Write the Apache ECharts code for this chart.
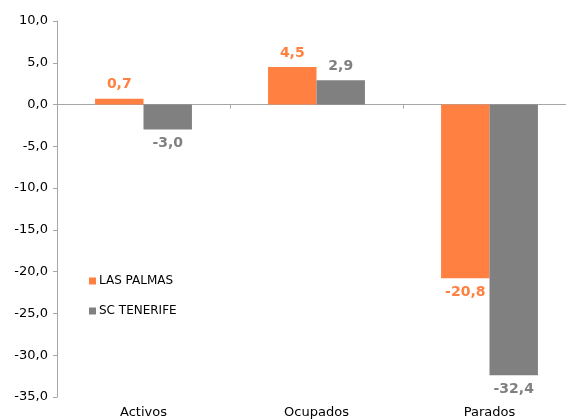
<!DOCTYPE html>
<html>
<head>
<meta charset="utf-8">
<script src="https://cdn.jsdelivr.net/npm/echarts@6/dist/echarts.min.js"></script>
<style>
  html, body { margin: 0; padding: 0; background: #fff; }
  #chart { width: 566px; height: 419px; }
</style>
</head>
<body>
<div id="chart"></div>
<script>
var categories = ["Activos", "Ocupados", "Parados"];
var lasPalmas = [0.7, 4.5, -20.8];
var scTenerife = [-3.0, 2.9, -32.4];
var seriesNames = ["LAS PALMAS", "SC TENERIFE"];
var colors = ["#ff8040", "#808080"];

function fmt(v) {
  return v.toFixed(1).replace(".", ",");
}

// etiqueta arriba si es positivo, abajo si es negativo
function withLabels(arr) {
  return arr.map(function (v) {
    return { value: v, label: { position: v >= 0 ? "top" : "bottom" } };
  });
}

var chart = echarts.init(document.getElementById("chart"));
var font = "'DejaVu Sans', Verdana, sans-serif";

var option = {
  animation: false,
  color: colors,
  legend: {
    orient: "vertical",
    left: 84,
    top: 270,
    itemWidth: 7,
    itemHeight: 7,
    itemGap: 18,
    icon: "rect",
    textStyle: { fontFamily: font, fontSize: 12, color: "#000", padding: [0, 0, 0, -2] },
    data: seriesNames
  },
  grid: {
    left: 57, width: 519, top: 21, bottom: 22,
    containLabel: false,
    outerBoundsMode: "none"
  },
  xAxis: [
    {
      type: "category",
      data: categories,
      position: "bottom",
      axisLine: { show: false, onZero: false },
      axisTick: { show: false },
      axisLabel: { fontFamily: font, fontSize: 13, color: "#000", margin: 9 }
    },
    {
      type: "category",
      data: categories,
      position: "bottom",
      axisLine: { show: true, onZero: true, lineStyle: { color: "#a6a6a6", width: 1 } },
      axisTick: { show: true, length: 4, lineStyle: { color: "#a6a6a6" } },
      axisLabel: { show: false }
    }
  ],
  yAxis: {
    type: "value",
    min: -35,
    max: 10,
    interval: 5,
    axisLine: { show: true, lineStyle: { color: "#a6a6a6" } },
    axisTick: { show: true, length: 4, lineStyle: { color: "#a6a6a6" } },
    splitLine: { show: false },
    axisLabel: {
      fontFamily: font, fontSize: 13, color: "#000", margin: 9,
      formatter: function (v) { return fmt(v); }
    }
  },
  series: [
    {
      name: seriesNames[0],
      type: "bar",
      xAxisIndex: 0,
      barGap: "0%",
      barCategoryGap: "44%",
      data: withLabels(lasPalmas),
      label: {
        show: true,
        fontFamily: font, fontSize: 14, fontWeight: "bold", color: colors[0],
        distance: 7,
        formatter: function (p) { return fmt(p.value); }
      }
    },
    {
      name: seriesNames[1],
      type: "bar",
      xAxisIndex: 0,
      barGap: "0%",
      barCategoryGap: "44%",
      data: withLabels(scTenerife),
      label: {
        show: true,
        fontFamily: font, fontSize: 14, fontWeight: "bold", color: colors[1],
        distance: 7,
        formatter: function (p) { return fmt(p.value); }
      }
    }
  ]
};

chart.setOption(option);
</script>
</body>
</html>
